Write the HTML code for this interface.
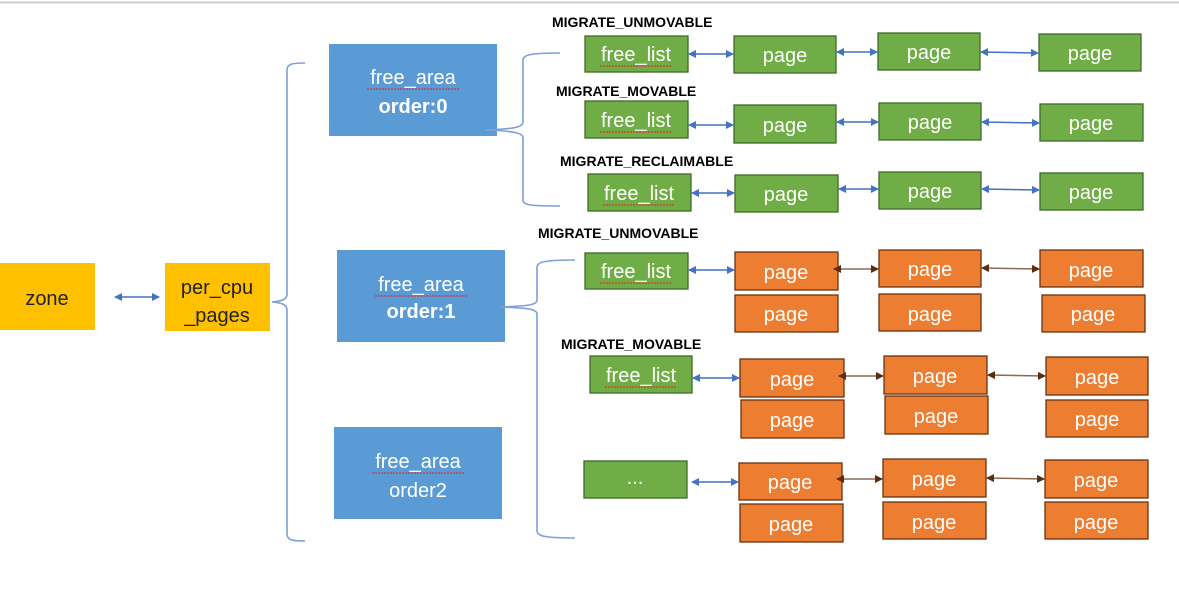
<!DOCTYPE html>
<html><head><meta charset="utf-8"><style>
html,body{margin:0;padding:0;background:#fff;}
svg{display:block;}
text{font-family:"Liberation Sans","Noto Sans CJK SC",sans-serif;}
.w{fill:#fff;font-size:20px;text-anchor:middle;}
.lbl{fill:#000;font-size:14px;font-weight:bold;}
.g{fill:#70AD47;stroke:#3E6B27;stroke-width:1.3;}
.o{fill:#ED7D31;stroke:#6B3210;stroke-width:1.3;}
.b{fill:#5B9BD5;}
.y{fill:#FFC000;}
.ab{stroke:#4472C4;stroke-width:1.5;fill:none;marker-start:url(#mbs);marker-end:url(#mbe);}
.ar{stroke:#8B6A55;stroke-width:1.5;fill:none;marker-start:url(#mrs);marker-end:url(#mre);}
.br{stroke:#7F9FD8;stroke-width:1.6;fill:none;}
.wav{stroke:#E02020;stroke-width:0.9;fill:none;stroke-dasharray:2 1;}
</style></head><body>
<svg width="1179" height="600" viewBox="0 0 1179 600" xmlns="http://www.w3.org/2000/svg">
<defs>
<marker id="mbe" markerWidth="8" markerHeight="8" refX="7" refY="4" orient="auto" markerUnits="userSpaceOnUse"><path d="M0,0 L8,4 L0,8 z" fill="#4472C4"/></marker>
<marker id="mbs" markerWidth="8" markerHeight="8" refX="1" refY="4" orient="auto" markerUnits="userSpaceOnUse"><path d="M8,0 L0,4 L8,8 z" fill="#4472C4"/></marker>
<marker id="mre" markerWidth="8" markerHeight="8" refX="7" refY="4" orient="auto" markerUnits="userSpaceOnUse"><path d="M0,0 L8,4 L0,8 z" fill="#5A2D0C"/></marker>
<marker id="mrs" markerWidth="8" markerHeight="8" refX="1" refY="4" orient="auto" markerUnits="userSpaceOnUse"><path d="M8,0 L0,4 L8,8 z" fill="#5A2D0C"/></marker>
</defs>
<rect x="0" y="0" width="1179" height="600" fill="#fff"/>
<line x1="0" y1="2.5" x2="1179" y2="2.5" stroke="#ccc" stroke-width="2"/>

<!-- zone / per_cpu -->
<rect class="y" x="0" y="263" width="95" height="67"/>
<text x="47" y="305" font-size="20" text-anchor="middle" fill="#222">zone</text>
<rect class="y" x="165" y="263" width="105" height="68"/>
<text x="217" y="294" font-size="20" text-anchor="middle" fill="#222">per_cpu</text>
<text x="217" y="322" font-size="20" text-anchor="middle" fill="#222">_pages</text>
<line class="ab" x1="115" y1="297" x2="159" y2="297"/>

<!-- main brace -->
<path class="br" d="M305,63 C292,63 287,64 287,70 L287,294 C287,299 283,301 272,302 C283,303 287,305 287,310 L287,534 C287,540 292,541 305,541"/>

<!-- free areas -->
<rect class="b" x="329" y="44" width="168" height="92"/>
<text class="w" x="413" y="84">free_area</text>
<text class="w" x="413" y="113" font-weight="bold">order:0</text>
<rect class="b" x="337" y="250" width="168" height="92"/>
<text class="w" x="421" y="291">free_area</text>
<text class="w" x="421" y="318" font-weight="bold">order:1</text>
<rect class="b" x="334" y="427" width="168" height="92"/>
<text class="w" x="418" y="468">free_area</text>
<text class="w" x="418" y="497">order2</text>
<path class="wav" d="M367,89 h92 M375,296 h92 M372,473 h92"/>

<!-- brace 1 -->
<path class="br" d="M560,53 C530,53 523,55 523,60 L523,122 C523,127 515,129 485,130 C515,131 523,133 523,138 L523,200 C523,205 530,206 560,206"/>
<!-- brace 2 -->
<path class="br" d="M575,260 C545,260 537,262 537,267 L537,300 C537,305 528,306 500,307 C528,308 537,309 537,314 L537,531 C537,536 545,538 575,538"/>

<!-- labels -->
<text class="lbl" x="552" y="27">MIGRATE_UNMOVABLE</text>
<text class="lbl" x="556" y="96">MIGRATE_MOVABLE</text>
<text class="lbl" x="560" y="166">MIGRATE_RECLAIMABLE</text>
<text class="lbl" x="538" y="238">MIGRATE_UNMOVABLE</text>
<text class="lbl" x="561" y="349">MIGRATE_MOVABLE</text>

<!-- free_list boxes -->
<rect class="g" x="585" y="36" width="103" height="36"/><text class="w" x="636" y="61">free_list</text>
<rect class="g" x="585" y="101" width="103" height="37"/><text class="w" x="636" y="127">free_list</text>
<rect class="g" x="588" y="174" width="103" height="37"/><text class="w" x="639" y="200">free_list</text>
<rect class="g" x="585" y="253" width="103" height="36"/><text class="w" x="636" y="278">free_list</text>
<rect class="g" x="590" y="356" width="102" height="37"/><text class="w" x="641" y="382">free_list</text>
<rect class="g" x="584" y="461" width="103" height="37"/><text class="w" x="635" y="484">...</text>
<path class="wav" d="M600,66 h72 M600,132 h72 M603,205 h72 M600,283 h72 M605,387 h72"/>

<!-- green pages -->
<rect class="g" x="734" y="36" width="102" height="37"/><text class="w" x="785" y="62">page</text>
<rect class="g" x="878" y="33" width="102" height="37"/><text class="w" x="929" y="59">page</text>
<rect class="g" x="1039" y="34" width="102" height="37"/><text class="w" x="1090" y="60">page</text>
<rect class="g" x="734" y="105" width="102" height="38"/><text class="w" x="785" y="132">page</text>
<rect class="g" x="879" y="103" width="102" height="37"/><text class="w" x="930" y="129">page</text>
<rect class="g" x="1040" y="104" width="103" height="37"/><text class="w" x="1091" y="130">page</text>
<rect class="g" x="735" y="175" width="103" height="37"/><text class="w" x="786" y="201">page</text>
<rect class="g" x="879" y="172" width="102" height="37"/><text class="w" x="930" y="198">page</text>
<rect class="g" x="1040" y="173" width="103" height="37"/><text class="w" x="1091" y="199">page</text>

<!-- green row arrows -->
<line class="ab" x1="689" y1="54" x2="733" y2="54"/>
<line class="ab" x1="837" y1="52" x2="877" y2="52"/>
<line class="ab" x1="981" y1="52" x2="1038" y2="53"/>
<line class="ab" x1="689" y1="125" x2="733" y2="125"/>
<line class="ab" x1="837" y1="122" x2="878" y2="122"/>
<line class="ab" x1="982" y1="122" x2="1039" y2="123"/>
<line class="ab" x1="692" y1="193" x2="734" y2="193"/>
<line class="ab" x1="839" y1="189" x2="878" y2="189"/>
<line class="ab" x1="982" y1="189" x2="1039" y2="190"/>

<!-- orange block A -->
<rect class="o" x="735" y="252" width="103" height="38"/><text class="w" x="786" y="279">page</text>
<rect class="o" x="879" y="250" width="102" height="37"/><text class="w" x="930" y="276">page</text>
<rect class="o" x="1040" y="250" width="103" height="37"/><text class="w" x="1091" y="277">page</text>
<rect class="o" x="735" y="295" width="103" height="37"/><text class="w" x="786" y="321">page</text>
<rect class="o" x="879" y="294" width="102" height="37"/><text class="w" x="930" y="321">page</text>
<rect class="o" x="1042" y="295" width="103" height="37"/><text class="w" x="1093" y="321">page</text>
<line class="ab" x1="689" y1="270" x2="734" y2="270"/>
<line class="ar" x1="834" y1="269" x2="878" y2="269"/>
<line class="ar" x1="982" y1="268" x2="1039" y2="269"/>

<!-- orange block B -->
<rect class="o" x="740" y="359" width="104" height="38"/><text class="w" x="792" y="386">page</text>
<rect class="o" x="884" y="356" width="103" height="38"/><text class="w" x="935" y="383">page</text>
<rect class="o" x="1046" y="357" width="102" height="38"/><text class="w" x="1097" y="384">page</text>
<rect class="o" x="741" y="400" width="103" height="38"/><text class="w" x="792" y="427">page</text>
<rect class="o" x="885" y="396" width="103" height="38"/><text class="w" x="936" y="423">page</text>
<rect class="o" x="1046" y="400" width="102" height="37"/><text class="w" x="1097" y="426">page</text>
<line class="ab" x1="693" y1="378" x2="739" y2="378"/>
<line class="ar" x1="839" y1="376" x2="883" y2="376"/>
<line class="ar" x1="988" y1="375" x2="1045" y2="376"/>

<!-- orange block C -->
<rect class="o" x="739" y="463" width="103" height="37"/><text class="w" x="790" y="489">page</text>
<rect class="o" x="883" y="459" width="103" height="38"/><text class="w" x="934" y="486">page</text>
<rect class="o" x="1045" y="460" width="103" height="38"/><text class="w" x="1096" y="487">page</text>
<rect class="o" x="740" y="504" width="103" height="38"/><text class="w" x="791" y="531">page</text>
<rect class="o" x="883" y="502" width="103" height="37"/><text class="w" x="934" y="529">page</text>
<rect class="o" x="1045" y="502" width="103" height="37"/><text class="w" x="1096" y="529">page</text>
<line class="ab" x1="692" y1="482" x2="738" y2="482"/>
<line class="ar" x1="837" y1="479" x2="882" y2="479"/>
<line class="ar" x1="987" y1="478" x2="1044" y2="479"/>
</svg>
</body></html>
